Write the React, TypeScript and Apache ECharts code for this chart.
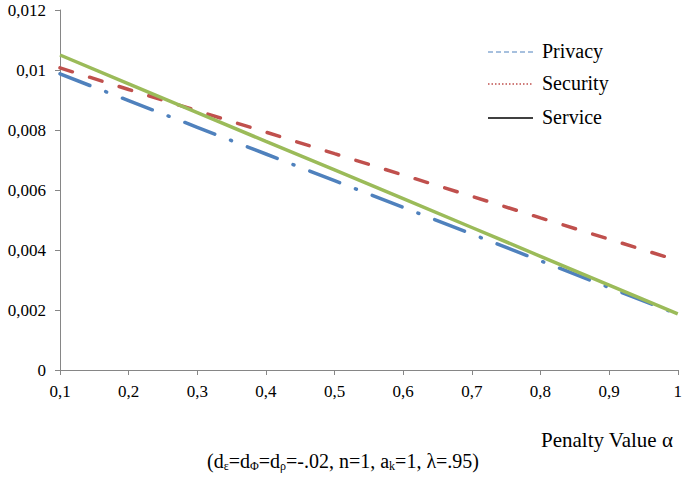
import React, { useEffect, useRef } from "react";
import * as echarts from "echarts";

const categories = ["0,1", "0,2", "0,3", "0,4", "0,5", "0,6", "0,7", "0,8", "0,9", "1"];
const privacy = [0.00987, 0.00898, 0.00809, 0.0072, 0.00631, 0.00542, 0.00453, 0.00364, 0.00275, 0.00186];
const security = [0.01007, 0.00935, 0.00864, 0.00793, 0.00721, 0.0065, 0.00579, 0.00507, 0.00436, 0.00365];
const service = [0.0105, 0.00954, 0.00858, 0.00762, 0.00667, 0.00571, 0.00475, 0.00379, 0.00283, 0.00187];
const legendNames = ["Privacy", "Security", "Service"];

const FONT = "Liberation Serif";

export default function App() {
  const ref = useRef<HTMLDivElement>(null);
  useEffect(() => {
    if (!ref.current) return;
    const chart = echarts.init(ref.current, null, { renderer: "svg" });
    const axisColor = "#868686";
    const txt = (text: string, x: number, y: number, size = 20) => ({
      type: "text",
      x,
      y,
      style: { text, fontFamily: FONT, fontSize: size, fill: "#000", verticalAlign: "middle" },
    });
    chart.setOption({
      animation: false,
      backgroundColor: "#ffffff",
      grid: { left: 60, right: 4, top: 10, bottom: 113, containLabel: false },
      xAxis: {
        type: "category",
        data: categories,
        boundaryGap: false,
        axisLine: { lineStyle: { color: axisColor, width: 1 } },
        axisTick: { show: true, alignWithLabel: true, length: 5, lineStyle: { color: axisColor } },
        axisLabel: { color: "#000", fontFamily: FONT, fontSize: 17, margin: 13 },
        splitLine: { show: false },
      },
      yAxis: {
        type: "value",
        min: 0,
        max: 0.012,
        interval: 0.002,
        axisLine: { show: true, lineStyle: { color: axisColor, width: 1 } },
        axisTick: { show: true, length: 5, lineStyle: { color: axisColor } },
        axisLabel: {
          color: "#000",
          fontFamily: FONT,
          fontSize: 17,
          margin: 14,
          formatter: (v: number) => String(+v.toFixed(3)).replace(".", ","),
        },
        splitLine: { show: false },
      },
      series: [
        {
          name: legendNames[0],
          type: "line",
          data: privacy,
          symbol: "none",
          z: 3,
          lineStyle: { color: "#4F81BD", width: 3.5, type: [32, 17, 1, 17], cap: "round" },
        },
        {
          name: legendNames[1],
          type: "line",
          data: security,
          symbol: "none",
          z: 2,
          lineStyle: { color: "#C0504D", width: 3.5, type: [13, 18], cap: "round" },
        },
        {
          name: legendNames[2],
          type: "line",
          data: service,
          symbol: "none",
          z: 4,
          lineStyle: { color: "#9BBB59", width: 3.5, type: "solid" },
        },
      ],
      graphic: [
        { type: "line", shape: { x1: 488, y1: 52, x2: 533, y2: 52 }, style: { stroke: "#4F81BD", lineWidth: 1, lineDash: [5, 3] } },
        txt(legendNames[0], 542, 51),
        { type: "line", shape: { x1: 488, y1: 84, x2: 533, y2: 84 }, style: { stroke: "#C0504D", lineWidth: 1.5, lineDash: [1.5, 2] } },
        txt(legendNames[1], 542, 83),
        { type: "line", shape: { x1: 488, y1: 118, x2: 533, y2: 118 }, style: { stroke: "#000", lineWidth: 1.5 } },
        txt(legendNames[2], 542, 117),
        txt("Penalty Value α", 541, 440, 21),
        {
          type: "text",
          x: 207,
          y: 461,
          style: {
            text: "(d{s|ε}=d{s|Φ}=d{s|ρ}=-.02, n=1, a{s|k}=1, λ=.95)",
            fontFamily: FONT,
            fontSize: 20,
            fill: "#000",
            verticalAlign: "middle",
            rich: {
              s: { fontSize: 12, fontFamily: FONT, fill: "#000", padding: [9, 0, 0, 0] },
            },
          },
        },
      ],
    });
    return () => chart.dispose();
  }, []);
  return <div ref={ref} style={{ position: "fixed", left: 0, top: 0, width: 685, height: 483 }} />;
}
